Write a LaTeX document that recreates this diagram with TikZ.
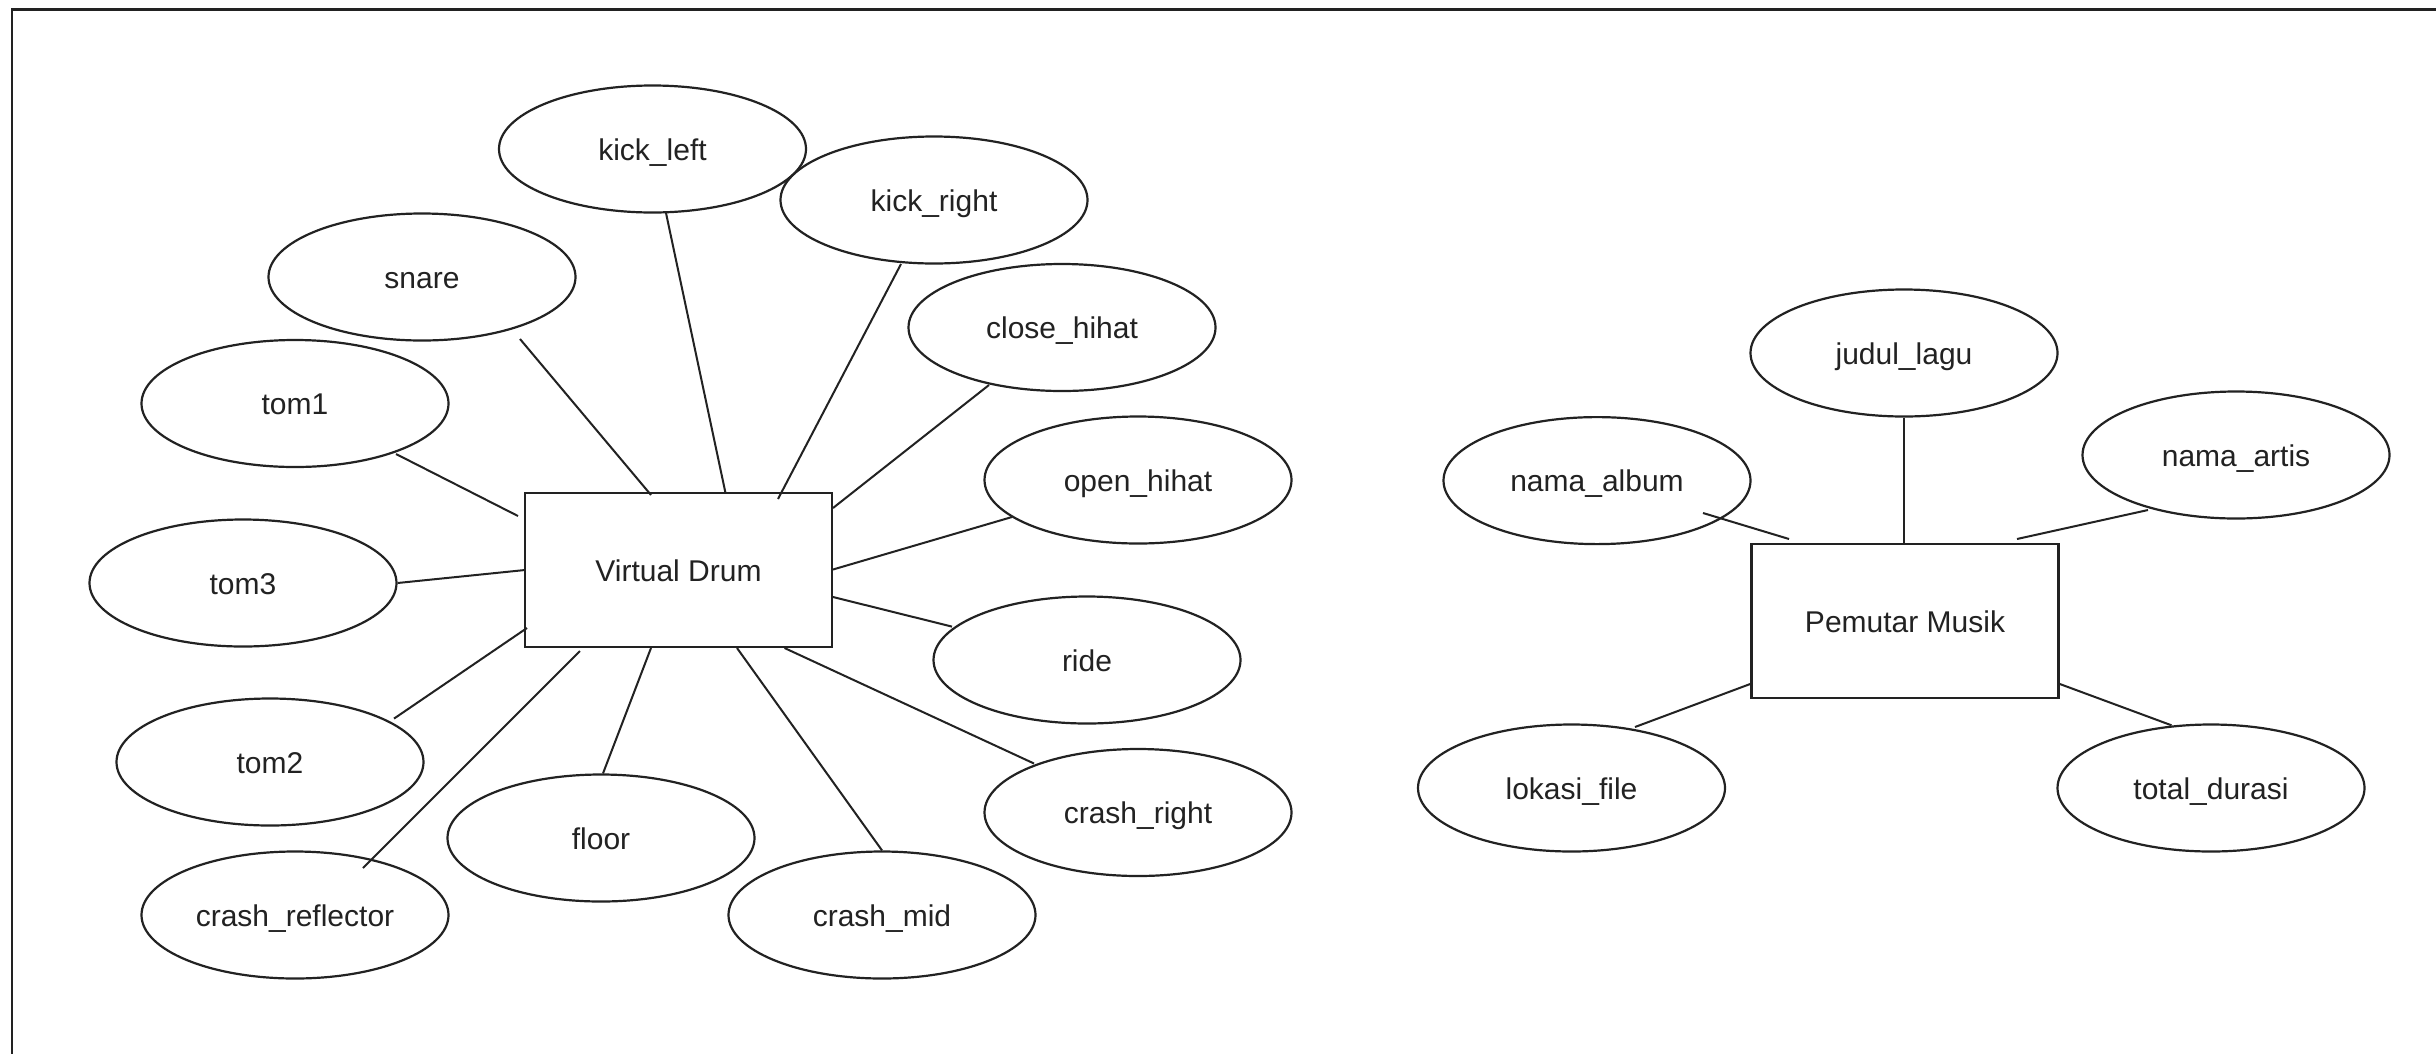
\documentclass[tikz,border=0pt]{standalone}
\usepackage{fontspec}
\setmainfont{Liberation Sans}
\usetikzlibrary{shapes.geometric,calc}
\definecolor{ink}{HTML}{222222}
\tikzset{
  attr/.style={ellipse,draw=ink,line width=2.2pt,minimum width=307pt,minimum height=127pt,inner sep=0pt,text height=22pt,text depth=0pt,font=\fontsize{30}{36}\selectfont,text=ink},
  ent/.style={rectangle,draw=ink,line width=2.6pt,minimum width=307pt,minimum height=154pt,inner sep=0pt,text height=22pt,text depth=0pt,font=\fontsize{30}{36}\selectfont,text=ink},
  conn/.style={draw=ink,line width=2pt}
}
\begin{document}
\begin{tikzpicture}[x=1pt,y=-1pt]
\useasboundingbox (0,0) rectangle (2436,1053);
\fill[white] (0,0) rectangle (2436,1053);
\draw[ink,line width=2.6pt] (12,1070) -- (12,9.5) -- (2460,9.5);

% Virtual Drum
\node[ent] (vd) at (678.5,570) {Virtual Drum};
\node[attr] (kl) at (652.5,149) {kick\_left};
\node[attr] (kr) at (934,200) {kick\_right};
\node[attr] (sn) at (422,277) {snare};
\node[attr] (ch) at (1062,327.5) {close\_hihat};
\node[attr] (t1) at (295,403.5) {tom1};
\node[attr] (oh) at (1138,480) {open\_hihat};
\node[attr] (t3) at (243,583) {tom3};
\node[attr] (ri) at (1087,660) {ride};
\node[attr] (t2) at (270,762) {tom2};
\node[attr] (fl) at (601,838) {floor};
\node[attr] (cr) at (1138,812.5) {crash\_right};
\node[attr] (crf) at (295,915) {crash\_reflector};
\node[attr] (cm) at (882,915) {crash\_mid};

\draw[conn] ($(kl)+(13.5,64)$) -- ($(vd)+(47,-77)$);
\draw[conn] ($(sn)+(98,62)$) -- ($(vd)+(-27.5,-75)$);
\draw[conn] ($(kr)+(-33,64)$) -- ($(vd)+(99.5,-71)$);
\draw[conn] ($(ch)+(-73,57.5)$) -- ($(vd)+(154.5,-62)$);
\draw[conn] ($(t1)+(101,50.5)$) -- ($(vd)+(-160.5,-54)$);
\draw[conn] ($(oh)+(-126,37)$) -- ($(vd)+(154.5,-0.5)$);
\draw[conn] (t3.east) -- ($(vd)+(-153.5,0)$);
\draw[conn] ($(ri)+(-135,-33.4)$) -- ($(vd)+(154.5,27)$);
\draw[conn] ($(t2)+(124,-43.4)$) -- ($(vd)+(-151.5,58)$);
\draw[conn] ($(crf)+(68,-47)$) -- ($(vd)+(-98.5,81)$);
\draw[conn] ($(fl.north)+(2,0)$) -- ($(vd)+(-27.5,78)$);
\draw[conn] (cm.north) -- ($(vd)+(58.5,78)$);
\draw[conn] ($(cr)+(-104,-49)$) -- ($(vd)+(106,78)$);

% Pemutar Musik
\node[ent] (pm) at (1905,621) {Pemutar Musik};
\node[attr] (jl) at (1904,353) {judul\_lagu};
\node[attr] (na) at (1597,480.6) {nama\_album};
\node[attr] (nar) at (2236,455) {nama\_artis};
\node[attr] (lf) at (1571.5,788) {lokasi\_file};
\node[attr] (td) at (2211,788) {total\_durasi};

\draw[conn] (jl.south) -- ($(pm.north)+(-1,0)$);
\draw[conn] ($(na)+(106,32.4)$) -- ($(pm)+(-116,-82)$);
\draw[conn] ($(nar)+(-88,55)$) -- ($(pm)+(112,-82)$);
\draw[conn] ($(lf)+(63.5,-61)$) -- ($(pm)+(-154,62.7)$);
\draw[conn] ($(td)+(-39.5,-62.7)$) -- ($(pm)+(154,62.7)$);
\end{tikzpicture}
\end{document}
